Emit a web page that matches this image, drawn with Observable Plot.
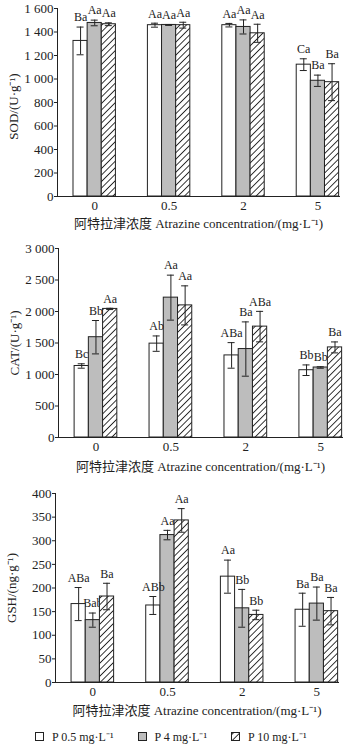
<!DOCTYPE html>
<html><head><meta charset="utf-8">
<script src="https://cdn.jsdelivr.net/npm/d3@7"></script>
<script src="https://cdn.jsdelivr.net/npm/@observablehq/plot@0.6"></script>
<style>
body{margin:0;background:#fff;width:355px;font-family:'Liberation Serif','Noto Sans CJK SC',serif;color:#222}
#defs{position:absolute;left:0;top:0;width:0;height:0}
#chart svg{display:block}
.legend{display:flex;align-items:center;padding-left:35px;height:22px;font-size:12px}
.legend .item{display:flex;align-items:center;margin-right:24px}
.legend svg{margin-right:8px;display:block}
</style></head><body>
<svg id="defs" width="0" height="0"><defs>
<pattern id="hatch" patternUnits="userSpaceOnUse" width="4.6" height="4.6" patternTransform="rotate(45)">
<rect width="4.6" height="4.6" fill="white"/><line x1="2.3" y1="0" x2="2.3" y2="4.6" stroke="#222" stroke-width="0.9"/>
</pattern></defs></svg>
<div id="chart"></div>
<script>
const concentrations = ["0", "0.5", "2", "5"];
const series = ["P 0.5 mg·L⁻¹", "P 4 mg·L⁻¹", "P 10 mg·L⁻¹"];
const fills = ["white", "#bdbdbd", "url(#hatch)"];
const xTitle = "阿特拉津浓度 Atrazine concentration/(mg·L⁻¹)";

// SOD
const sodP05 = [1324, 1458, 1458, 1122];
const sodP05Err = [118, 17, 15, 50];
const sodP4 = [1477, 1460, 1443, 985];
const sodP4Err = [24, 4, 60, 48];
const sodP10 = [1466, 1458, 1389, 973];
const sodP10Err = [12, 25, 77, 157];
const sodLetters = [["Ba","Aa","Aa","Ca"], ["Aa","Aa","Aa","Ba"], ["Aa","Aa","Aa","Ba"]];
const sodTicks = [0, 200, 400, 600, 800, 1000, 1200, 1400, 1600];

// CAT
const catP05 = [1135, 1490, 1303, 1068];
const catP05Err = [35, 122, 203, 84];
const catP4 = [1592, 2220, 1404, 1111];
const catP4Err = [265, 357, 431, 12];
const catP10 = [2041, 2097, 1760, 1430];
const catP10Err = [10, 310, 242, 87];
const catLetters = [["Bc","Ab","ABa","Bb"], ["Bb","Aa","Ba","Bb"], ["Aa","Aa","ABa","Ba"]];
const catTicks = [0, 500, 1000, 1500, 2000, 2500, 3000];

// GSH
const gshP05 = [166, 163, 224, 154];
const gshP05Err = [35, 19, 35, 35];
const gshP4 = [132, 312, 157, 167];
const gshP4Err = [15, 10, 40, 35];
const gshP10 = [182, 343, 143, 151];
const gshP10Err = [28, 25, 10, 29];
const gshLetters = [["ABa","ABb","Aa","Ba"], ["Bab","Aa","Bb","Ba"], ["Ba","Aa","Bb","Ba"]];
const gshTicks = [0, 50, 100, 150, 200, 250, 300, 350, 400];

const fmt = v => d3.format(",")(v).replace(/,/g, " ");
const bw = 0.19, cap = 0.047;

function panel(o) {
  const data = [];
  concentrations.forEach((c, g) => series.forEach((s, i) => data.push({
    g, i, s, v: o.values[i][g], e: o.errors[i][g], t: o.letters[i][g]
  })));
  const cx = d => d.g + (d.i - 1) * bw;
  const labelOpts = {x: cx, y: d => d.v + d.e, text: "t", dy: -9.5, fontSize: 12, fill: "#222"};
  return Plot.plot({
    width: 355, height: o.height,
    marginLeft: o.ml, marginRight: o.mr, marginTop: o.mt, marginBottom: o.mb,
    style: {fontFamily: "'Liberation Serif','Noto Sans CJK SC',serif", fontSize: "13px", color: "#222", background: "white"},
    x: {domain: [-0.5, 3.29], ticks: [0, 1, 2, 3], tickFormat: i => concentrations[i], tickSize: 0, tickPadding: 4, line: true, label: null},
    y: {domain: [0, o.ticks[o.ticks.length - 1]], ticks: o.ticks, tickFormat: fmt, tickSize: 3, tickPadding: 1, line: true, label: null},
    color: {domain: series, range: fills},
    marks: [
      Plot.text(data, {...labelOpts, filter: d => d.i > 0}),
      Plot.rect(data, {x1: d => d.g + (d.i - 1.5) * bw, x2: d => d.g + (d.i - 0.5) * bw, y1: 0, y2: "v", fill: "s", stroke: "#222", strokeWidth: 1}),
      Plot.ruleX(data, {x: cx, y1: d => d.v - d.e, y2: d => d.v + d.e, stroke: "#222", strokeWidth: 1}),
      Plot.ruleY(data, {x1: d => cx(d) - cap, x2: d => cx(d) + cap, y: d => d.v + d.e, stroke: "#222", strokeWidth: 1}),
      Plot.ruleY(data, {x1: d => cx(d) - cap, x2: d => cx(d) + cap, y: d => d.v - d.e, stroke: "#222", strokeWidth: 1}),
      Plot.text(data, {...labelOpts, filter: d => d.i === 0}),
      Plot.text([xTitle], {frameAnchor: "bottom", lineAnchor: "middle", textAnchor: "middle", dy: o.titleDy, fontSize: 13, fill: "#222"}),
      Plot.text([o.yTitle], {frameAnchor: "left", lineAnchor: "middle", textAnchor: "middle", rotate: -90, dx: -44, dy: o.yDy || 0, fontSize: 13, fill: "#222"})
    ]
  });
}

const root = document.getElementById("chart");
root.append(panel({values: [sodP05, sodP4, sodP10], errors: [sodP05Err, sodP4Err, sodP10Err], letters: sodLetters,
  ticks: sodTicks, yTitle: "SOD/(U·g⁻¹)", height: 240, ml: 57, mr: 16, mt: 8, mb: 44, titleDy: 27, yDy: 4}));
root.append(panel({values: [catP05, catP4, catP10], errors: [catP05Err, catP4Err, catP10Err], letters: catLetters,
  ticks: catTicks, yTitle: "CAT/(U·g⁻¹)", height: 240, ml: 58, mr: 13, mt: 8, mb: 43, titleDy: 29}));
root.append(panel({values: [gshP05, gshP4, gshP10], errors: [gshP05Err, gshP4Err, gshP10Err], letters: gshLetters,
  ticks: gshTicks, yTitle: "GSH/(ng·g⁻¹)", height: 245, ml: 55, mr: 17, mt: 13, mb: 43, titleDy: 28}));

const legend = document.createElement("div");
legend.className = "legend";
series.forEach((s, i) => {
  const item = document.createElement("div");
  item.className = "item";
  item.innerHTML = `<svg width="9" height="9"><rect x="0.5" y="0.5" width="8" height="8" fill="${fills[i]}" stroke="#222" stroke-width="1"/></svg><span>${s}</span>`;
  legend.append(item);
});
root.append(legend);
</script>
</body></html>
